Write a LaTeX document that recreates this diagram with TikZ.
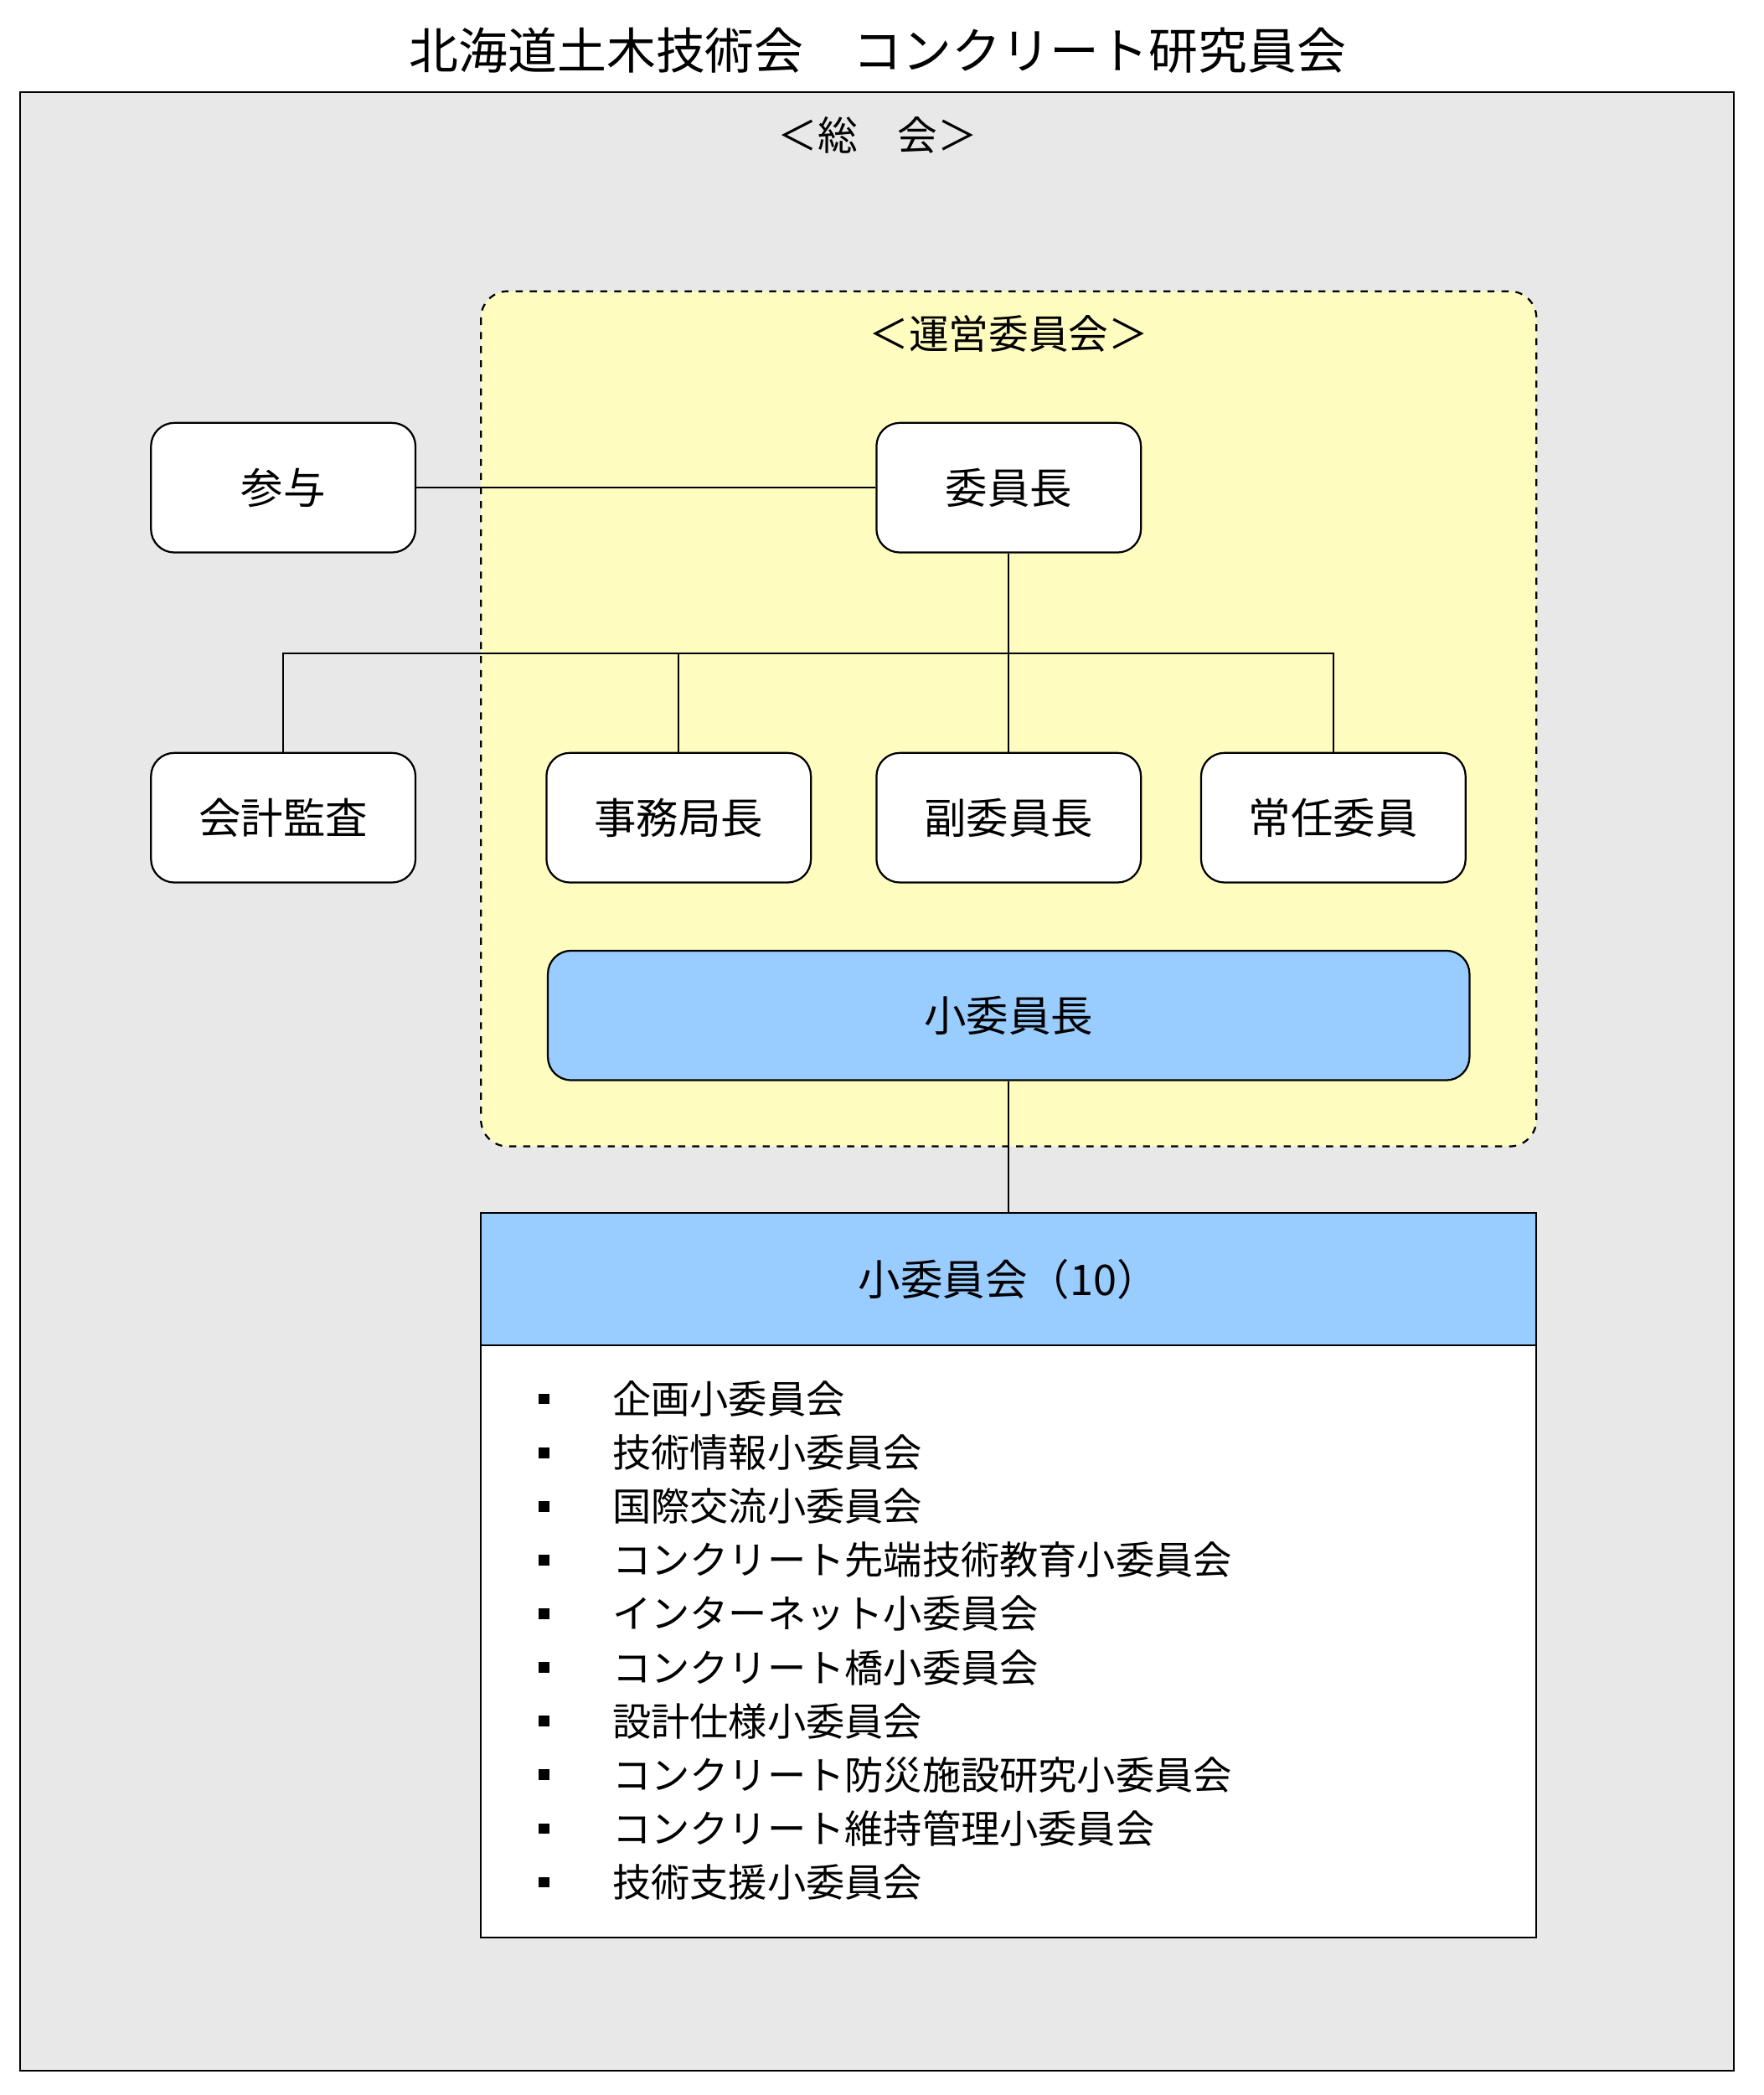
\documentclass[tikz,border=0pt]{standalone}
\usepackage{fontspec}
\setmainfont{Noto Sans CJK JP}
\begin{document}
\begin{tikzpicture}[x=0.02cm,y=-0.02cm,
  rbox/.style={draw,thick,rounded corners=0.35cm,fill=white,minimum width=3.96cm,minimum height=1.94cm,font=\fontsize{18}{20}\selectfont},
  ln/.style={thick},
  item/.style={anchor=west,font=\fontsize{16.5}{18}\selectfont,inner sep=0pt},
  bul/.style={fill=black,inner sep=0pt,minimum size=0.16cm}]
\useasboundingbox (0,0) rectangle (1320,1568);
\node[font=\fontsize{21}{24}\selectfont] (title) at (657,38) {北海道土木技術会\quad コンクリート研究員会};
\draw[thick,fill=black!9] (15,69) rectangle (1298,1550);
\node[font=\fontsize{17}{20}\selectfont] (soukai) at (657,101) {＜総　会＞};
\draw[thick,dashed,fill=yellow!25,rounded corners=0.4cm] (360,218) rectangle (1150,858);
\node[font=\fontsize{17}{20}\selectfont] (unei) at (755,250) {＜運営委員会＞};
\node[rbox] (sanyo) at (212,365) {参与};
\node[rbox] (iincho) at (755,365) {委員長};
\node[rbox] (kaikei) at (212,612) {会計監査};
\node[rbox] (jimu) at (508,612) {事務局長};
\node[rbox] (fuku) at (755,612) {副委員長};
\node[rbox] (jonin) at (998,612) {常任委員};
\node[rbox,fill={rgb,255:red,153;green,204;blue,255},minimum width=13.8cm] (sho) at (755,760) {小委員長};
\coordinate (j) at (755,489);
\draw[ln] (sanyo) -- (iincho);
\draw[ln] (iincho) -- (j);
\draw[ln] (kaikei.north) |- (j) -| (jonin.north);
\draw[ln] (jimu.north) -- (jimu.north |- j);
\draw[ln] (fuku.north) -- (j);
\draw[thick,fill=white] (360,1007) rectangle (1150,1450);
\node[draw,thick,fill={rgb,255:red,153;green,204;blue,255},minimum width=15.8cm,minimum height=1.98cm,font=\fontsize{18}{20}\selectfont] (hdr) at (755,957.5) {小委員会（10）};
\draw[ln] (sho) -- (hdr);
\foreach \t [count=\i] in {企画小委員会,技術情報小委員会,国際交流小委員会,コンクリート先端技術教育小委員会,インターネット小委員会,コンクリート橋小委員会,設計仕様小委員会,コンクリート防災施設研究小委員会,コンクリート維持管理小委員会,技術支援小委員会}{
  \node[bul] (b\i) at (407,{1047+40.2*(\i-1)}) {};
  \node[item] (t\i) at (458,{1047+40.2*(\i-1)}) {\t};
}
\end{tikzpicture}
\end{document}
